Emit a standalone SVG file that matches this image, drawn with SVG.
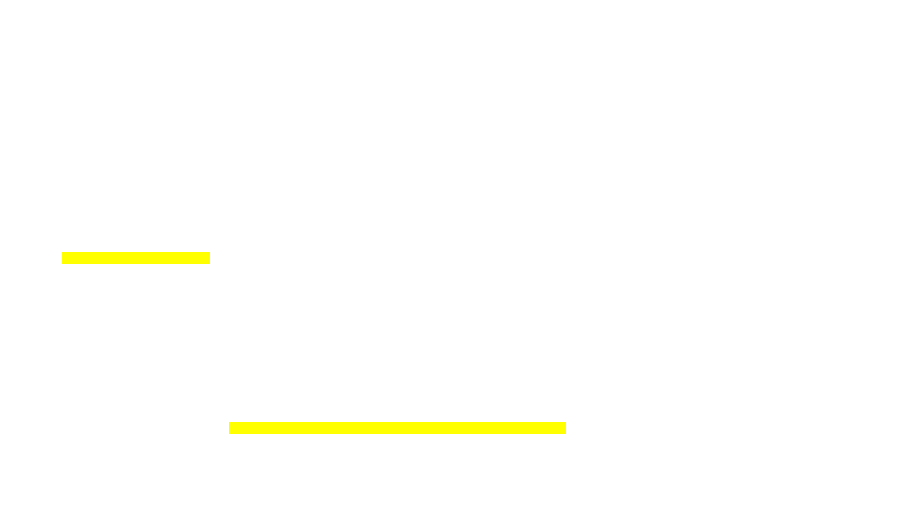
<svg xmlns="http://www.w3.org/2000/svg" width="900" height="506" viewBox="0 0 900 506"><style>.hl{fill:#ffff00}</style><rect width="900" height="506" fill="#fff"/><g id="bar1"><rect class="hl" x="62" y="252" width="148" height="12"/></g><g id="bar2"><rect class="hl" x="229" y="422" width="337" height="12"/></g></svg>
